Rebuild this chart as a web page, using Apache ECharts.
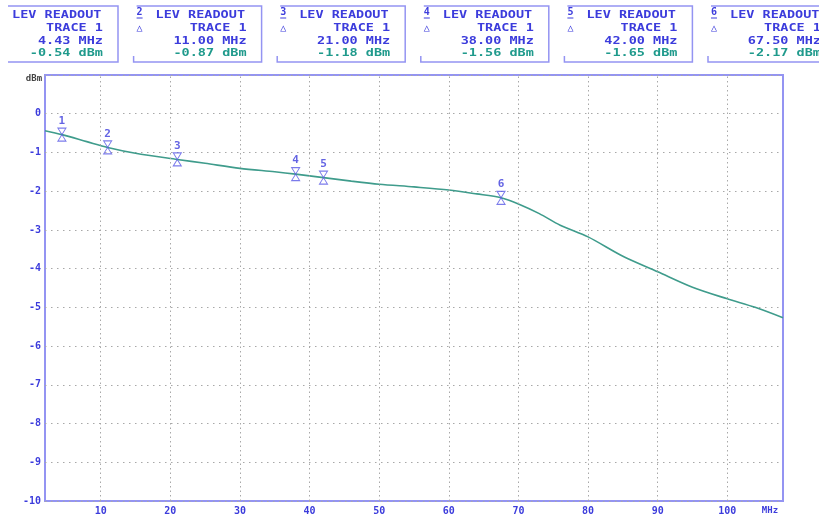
<!DOCTYPE html>
<html>
<head>
<meta charset="utf-8">
<script src="https://cdn.jsdelivr.net/npm/echarts@6/dist/echarts.min.js"></script>
<style>
html,body{margin:0;padding:0;background:#fff;}
#chart{width:819px;height:518px;}
</style>
</head>
<body>
<div id="chart"></div>
<script>
// Trace (frequency in MHz, level in dBm)
const freqMHz  = [2, 4.43, 8, 11, 15, 21, 25, 30, 35, 38, 42, 46, 50, 55, 60, 64, 67.5, 70, 73, 76, 80, 85, 90, 95, 100, 104, 108];
const levelDbm = [-0.44, -0.54, -0.72, -0.87, -1.02, -1.18, -1.28, -1.41, -1.50, -1.56, -1.65, -1.74, -1.82, -1.89, -1.97, -2.07, -2.17, -2.33, -2.58, -2.88, -3.18, -3.68, -4.08, -4.48, -4.78, -5.00, -5.27];
// Markers
const markerNo   = [1, 2, 3, 4, 5, 6];
const markerFreq = [4.43, 11.00, 21.00, 38.00, 42.00, 67.50];
const markerLev  = [-0.54, -0.87, -1.18, -1.56, -1.65, -2.17];
// Axis ticks
const xTicks = [10, 20, 30, 40, 50, 60, 70, 80, 90, 100];

const BLUE = '#3c3cdc';
const TEAL = '#1f9a8c';
const FRAME = '#9494f2';
const MONO = '"DejaVu Sans Mono", "Liberation Mono", monospace';

const chart = echarts.init(document.getElementById('chart'));

const graphics = [];
markerNo.forEach((n, i) => {
  const ts = 12 + 143.6 * i;
  const left = ts - 22, right = ts + 106, top = 6, bottom = 62;
  const pts = i === 0
    ? [[8, bottom], [right, bottom], [right, top], [8, top]]
    : [[left, bottom - 6], [left, bottom], [right, bottom], [right, top], [left + 3, top]];
  graphics.push({ type: 'polyline', silent: true, shape: { points: pts },
    style: { stroke: FRAME, fill: null, lineWidth: 1.5 } });
  if (i > 0) {
    graphics.push({ type: 'text', x: ts - 16, y: 12, silent: true,
      style: { text: String(n), fill: BLUE, font: 'bold 10px ' + MONO, textAlign: 'center', textVerticalAlign: 'middle' } });
    graphics.push({ type: 'line', silent: true, shape: { x1: ts - 19, y1: 18, x2: ts - 13, y2: 18 },
      style: { stroke: BLUE, lineWidth: 1 } });
    graphics.push({ type: 'text', x: ts - 16, y: 28, silent: true,
      style: { text: '△', fill: BLUE, font: '10px ' + MONO, textAlign: 'center', textVerticalAlign: 'middle' } });
  }
  const rows = [
    { t: 'LEV READOUT', y: 15, c: BLUE, a: 'left', x: ts },
    { t: 'TRACE 1', y: 28, c: BLUE, a: 'right', x: ts + 91 },
    { t: markerFreq[i].toFixed(2) + ' MHz', y: 41, c: BLUE, a: 'right', x: ts + 91 },
    { t: markerLev[i].toFixed(2) + ' dBm', y: 53, c: TEAL, a: 'right', x: ts + 91 }
  ];
  rows.forEach(r => {
    graphics.push({ type: 'text', x: r.x, y: r.y, scaleX: 1.35, silent: true,
      style: { x: 0, y: 0, text: r.t, fill: r.c, font: 'bold 10px ' + MONO, textAlign: r.a, textVerticalAlign: 'middle' } });
  });
});
graphics.push({ type: 'text', x: 34, y: 79, silent: true,
  style: { text: 'dBm', fill: '#444', font: 'bold 9px ' + MONO, textAlign: 'center', textVerticalAlign: 'middle' } });
graphics.push({ type: 'text', x: 770, y: 511, silent: true,
  style: { text: 'MHz', fill: BLUE, font: 'bold 9px ' + MONO, textAlign: 'center', textVerticalAlign: 'middle' } });

chart.setOption({
  animation: false,
  backgroundColor: '#fff',
  grid: { left: 45, right: 36, top: 75, bottom: 17, show: true, borderColor: FRAME, borderWidth: 2, backgroundColor: 'transparent' },
  xAxis: {
    type: 'value', min: 2, max: 108, interval: 2,
    axisLine: { show: false }, axisTick: { show: false }, splitLine: { show: false },
    axisLabel: { margin: 5, color: BLUE, fontFamily: MONO, fontWeight: 'bold', fontSize: 10,
      formatter: v => (xTicks.indexOf(v) >= 0 ? String(v) : '') }
  },
  yAxis: {
    type: 'value', min: -10, max: 1, interval: 1,
    axisLine: { show: false }, axisTick: { show: false },
    axisLabel: { margin: 4, color: BLUE, fontFamily: MONO, fontWeight: 'bold', fontSize: 10,
      formatter: v => (v === 1 ? '' : String(v)) },
    splitLine: { lineStyle: { color: '#a8a8a8', type: [1.5, 4.5], width: 1 } }
  },
  graphic: graphics,
  series: [
    {
      type: 'line', data: freqMHz.map((f, i) => [f, levelDbm[i]]),
      smooth: 0.3, showSymbol: false, silent: true,
      lineStyle: { color: '#3f9c8c', width: 1.6 },
      markLine: {
        silent: true, symbol: 'none', label: { show: false },
        lineStyle: { color: '#a8a8a8', type: [1.5, 3], width: 1 },
        data: xTicks.map(v => ({ xAxis: v }))
      },
      z: 3
    },
    {
      type: 'scatter', silent: true, z: 4,
      data: markerFreq.map((f, i) => ({ value: [f, markerLev[i]], name: String(markerNo[i]) })),
      symbol: 'path://M0,0 L10,0 L0,14 L10,14 Z', symbolSize: [8, 13],
      itemStyle: { color: 'rgba(0,0,0,0)', borderColor: '#5a5ae6', borderWidth: 1 },
      label: { show: true, position: 'top', distance: 1, formatter: p => p.name,
        color: BLUE, fontFamily: MONO, fontWeight: 'bold', fontSize: 11 }
    }
  ]
});
</script>
</body>
</html>
